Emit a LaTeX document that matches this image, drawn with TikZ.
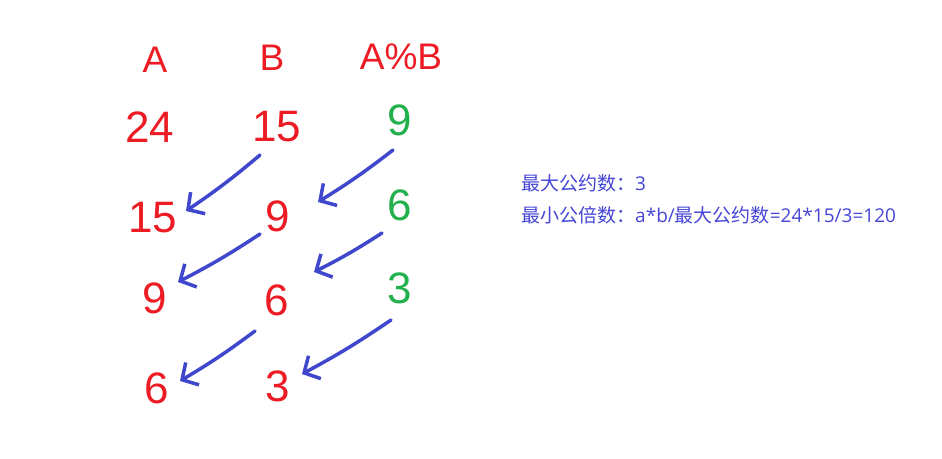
\documentclass[tikz,border=0pt]{standalone}
\usepackage{fontspec}
\setmainfont{Liberation Sans}
\newfontfamily\cjk{Noto Sans CJK SC}
\newfontfamily\lat{Open Sans}
\usetikzlibrary{arrows.meta}
\definecolor{pred}{RGB}{237,28,36}
\definecolor{pgreen}{RGB}{34,177,76}
\definecolor{pblue}{RGB}{63,72,204}
\definecolor{tblue}{RGB}{70,70,215}
\tikzset{
  hand/.style={text=pred, font=\fontsize{44}{44}\selectfont, inner sep=0pt},
  handg/.style={hand, text=pgreen},
  head/.style={text=pred, font=\fontsize{37}{37}\selectfont, inner sep=0pt},
  link/.style={draw=pblue, line width=3.5pt, line cap=round, line join=round,
    -{Straight Barb[length=12pt,width=26pt,line width=3.5pt]}, bend left=3},
  note/.style={text=tblue, font=\lat\fontsize{19}{19}\selectfont, anchor=west, inner sep=0pt}
}
\begin{document}
\begin{tikzpicture}[x=1pt,y=-1pt]
\useasboundingbox[fill=white] (0,0) rectangle (942,458);
% headers
\node[head] (hA) at (155,60) {A};
\node[head] (hB) at (272,58) {B};
\node[head] (hAB) at (401,57) {A\%B};
% rows
\node[hand] (a1) at (150,127) {24};
\node[hand] (b1) at (277,127) {15};
\node[handg] (r1) at (400,120) {9};
\node[hand] (a2) at (153,218) {15};
\node[hand] (b2) at (278,216) {9};
\node[handg] (r2) at (400,205) {6};
\node[hand] (a3) at (155,298) {9};
\node[hand] (b3) at (277,300) {6};
\node[handg] (r3) at (400,288) {3};
\node[hand] (a4) at (157,388) {6};
\node[hand] (b4) at (278,386) {3};
% arrow ends
\coordinate (s1) at (260,155); \coordinate (e1) at (186,211);
\coordinate (s2) at (393,150); \coordinate (e2) at (318,202);
\coordinate (s3) at (260,234); \coordinate (e3) at (178,282);
\coordinate (s4) at (382,233); \coordinate (e4) at (314,272);
\coordinate (s5) at (255,331); \coordinate (e5) at (180,381);
\coordinate (s6) at (391,320); \coordinate (e6) at (302,374);
\draw[link] (s1) to (e1);
\draw[link] (s2) to (e2);
\draw[link] (s3) to (e3);
\draw[link] (s4) to (e4);
\draw[link] (s5) to (e5);
\draw[link] (s6) to (e6);
% notes
\node[note] (n1) at (521,183) {{\cjk 最大公约数：}3};
\node[note] (n2) at (521,215) {{\cjk 最小公倍数：}a*b/{\cjk 最大公约数}=24*15/3=120};
\end{tikzpicture}
\end{document}
